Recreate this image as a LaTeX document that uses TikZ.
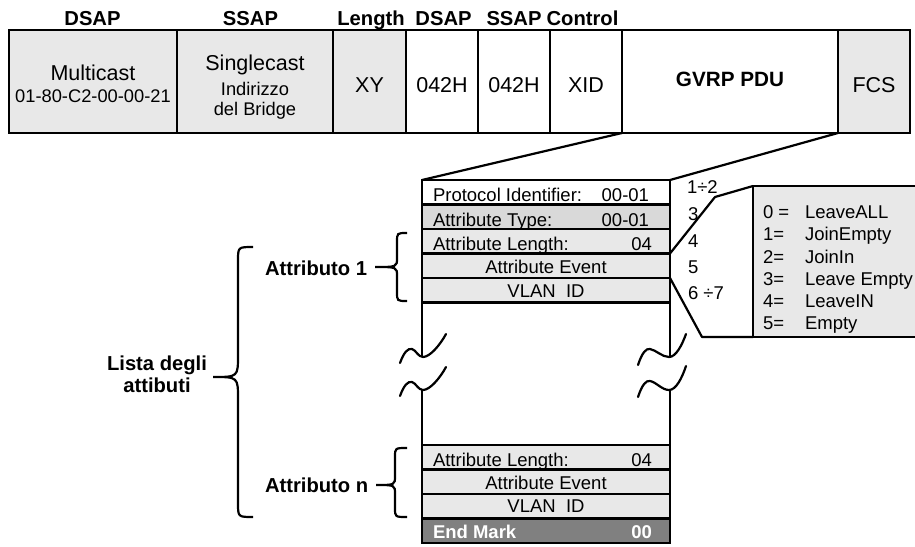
\documentclass[tikz,border=0pt]{standalone}
\usepackage{fontspec}
\setmainfont{Liberation Sans}
\definecolor{lg}{HTML}{E8E8E8}
\definecolor{dg}{HTML}{D9D9D9}
\definecolor{em}{HTML}{808080}
\newcommand\mybrace[8]{\draw[br] (#1,#4) .. controls (#2,#4) .. (#2,#4+#7) -- (#2,#5-#8) .. controls (#2,#5) .. (#3,#5) .. controls (#2,#5) .. (#2,#5+#8) -- (#2,#6-#7) .. controls (#2,#6) .. (#1,#6);}
\begin{document}
\begin{tikzpicture}[x=1pt,y=-1pt,
  cell/.style={draw, line width=2.4pt, minimum height=103pt, inner sep=0pt, outer sep=0pt, anchor=north west},
  rowbox/.style={draw, line width=2.2pt, minimum width=248pt, minimum height=24.5pt, inner sep=0pt, outer sep=0pt, anchor=north west, fill=lg},
  txt/.style={inner sep=0pt, outer sep=0pt, anchor=base},
  hdr/.style={txt, font=\fontsize{20.2}{24}\selectfont\bfseries},
  big/.style={txt, font=\fontsize{21.5}{25}\selectfont},
  mid/.style={txt, font=\fontsize{18.3}{22}\selectfont},
  rt/.style={txt, font=\fontsize{18.5}{22}\selectfont},
  lab/.style={txt, anchor=base west, font=\fontsize{20.2}{24}\selectfont\bfseries},
  ln/.style={line width=2.2pt},
  br/.style={line width=2.2pt},
  wv/.style={line width=2.2pt, line cap=round}]
\useasboundingbox (0,0) rectangle (915,546);
% header labels
\node[hdr] (h1) at (92.5,25) {DSAP};
\node[hdr] (h2) at (250.5,25) {SSAP};
\node[hdr] (h3) at (371,25) {Length};
\node[hdr] (h4) at (443.5,25) {DSAP};
\node[hdr] (h5) at (514,25) {SSAP};
\node[hdr] (h6) at (582.5,25) {Control};
% frame cells
\node[cell, fill=lg, minimum width=168pt] (c1) at (9,30) {};
\node[cell, fill=lg, minimum width=156pt] (c2) at (177,30) {};
\node[cell, fill=lg, minimum width=73pt] (c3) at (333,30) {};
\node[cell, fill=white, minimum width=72pt] (c4) at (406,30) {};
\node[cell, fill=white, minimum width=72pt] (c5) at (478,30) {};
\node[cell, fill=white, minimum width=72pt] (c6) at (550,30) {};
\node[cell, fill=white, minimum width=216pt] (c7) at (622,30) {};
\node[cell, fill=lg, minimum width=72pt] (c8) at (838,30) {};
\node[big] (t1a) at (93,80) {Multicast};
\node[mid] (t1b) at (93,102) {01-80-C2-00-00-21};
\node[big] (t2a) at (255,70) {Singlecast};
\node[mid] (t2b) at (255,95) {Indirizzo};
\node[mid] (t2c) at (255,115) {del Bridge};
\node[big] (t3) at (369.5,92) {XY};
\node[big] (t4) at (442,92) {042H};
\node[big] (t5) at (514,92) {042H};
\node[big] (t6) at (586,92) {XID};
\node[big, font=\fontsize{20.7}{24}\selectfont\bfseries] (t7) at (730,86) {GVRP PDU};
\node[big] (t8) at (874,92) {FCS};
% stack rows (top)
\node[rowbox, fill=white] (r1) at (422,180) {};
\node[rowbox, fill=dg] (r2) at (422,204.5) {};
\node[rowbox] (r3) at (422,229) {};
\node[rowbox] (r4) at (422,253.5) {};
\node[rowbox] (r5) at (422,278) {};
\node[rt, anchor=base west] (r1l) at (433,201.5) {Protocol Identifier:};
\node[rt, anchor=base east] (r1r) at (649,201.5) {00-01};
\node[rt, anchor=base west] (r2l) at (433,226) {Attribute Type:};
\node[rt, anchor=base east] (r2r) at (649,226) {00-01};
\node[rt, anchor=base west] (r3l) at (433,250.5) {Attribute Length:};
\node[rt, anchor=base east] (r3r) at (652,250.5) {04};
\node[rt] (r4t) at (546,273.5) {Attribute Event};
\node[rt] (r5t) at (546,297) {VLAN\ \ ID};
% stack rows (bottom)
\node[rowbox] (s1) at (422,445) {};
\node[rowbox] (s2) at (422,469.5) {};
\node[rowbox] (s3) at (422,494) {};
\node[rowbox, fill=em] (s4) at (422,518.5) {};
\node[rt, anchor=base west] (s1l) at (433,466) {Attribute Length:};
\node[rt, anchor=base east] (s1r) at (652,466) {04};
\node[rt] (s2t) at (546,489.5) {Attribute Event};
\node[rt] (s3t) at (546,512.5) {VLAN\ \ ID};
\node[rt, anchor=base west, text=white, font=\fontsize{18.5}{22}\selectfont\bfseries] (s4l) at (433,538) {End Mark};
\node[rt, anchor=base east, text=white, font=\fontsize{18.5}{22}\selectfont\bfseries] (s4r) at (652,538) {00};
% side lines with breaks
\coordinate (lb1) at (422,357);
\coordinate (lb2) at (422,390);
\coordinate (rb1) at (670,357);
\coordinate (rb2) at (670,390);
\draw[ln] (r5.south west) -- (lb1);
\draw[ln] (lb2) -- (s1.north west);
\draw[ln] (r5.south east) -- (rb1);
\draw[ln] (rb2) -- (s1.north east);
\draw[wv] (400,363) .. controls (404,352) and (408,348) .. (412,349) .. controls (416,350) and (418,357) .. (423,357) .. controls (430,357) and (440,345) .. (446,334);
\draw[wv] (400,396) .. controls (404,385) and (408,381) .. (412,382) .. controls (416,383) and (418,390) .. (423,390) .. controls (430,390) and (440,378) .. (446,367);
\draw[wv] (638,365) .. controls (642,353) and (646,348) .. (650,349) .. controls (656,350) and (662,357) .. (669,357) .. controls (676,357) and (682,345) .. (686,334);
\draw[wv] (638,397) .. controls (642,385) and (646,380) .. (650,381) .. controls (656,382) and (662,390) .. (669,390) .. controls (676,390) and (682,378) .. (686,366);
% funnel
\draw[ln] (c7.south west) -- (r1.north west);
\draw[ln] (c7.south east) -- (r1.north east);
% legend callout
\node[draw, line width=2.2pt, fill=lg, anchor=north west, minimum width=180pt, minimum height=151pt, inner sep=0pt, outer sep=0pt] (leg) at (753,186) {};
\coordinate (k1) at (715,197);
\coordinate (k2) at (702,337);
\draw[ln, line join=round] (r3.south east) -- (k1) -- (leg.north west);
\draw[ln, line join=round] (r5.north east) -- (k2) -- (leg.south west);
\node[rt, anchor=base west] (n1) at (687,193) {1÷2};
\node[rt, anchor=base west] (n2) at (688,220) {3};
\node[rt, anchor=base west] (n3) at (688,247) {4};
\node[rt, anchor=base west] (n4) at (688,273) {5};
\node[rt, anchor=base west] (n5) at (688,299) {6 ÷7};
\node[rt, anchor=base west] (g0k) at (763,218.5) {0 =};
\node[rt, anchor=base west] (g0v) at (805,218.5) {LeaveALL};
\node[rt, anchor=base west] (g1k) at (763,240.5) {1=};
\node[rt, anchor=base west] (g1v) at (805,240.5) {JoinEmpty};
\node[rt, anchor=base west] (g2k) at (763,263) {2=};
\node[rt, anchor=base west] (g2v) at (805,263) {JoinIn};
\node[rt, anchor=base west] (g3k) at (763,285) {3=};
\node[rt, anchor=base west] (g3v) at (805,285) {Leave Empty};
\node[rt, anchor=base west] (g4k) at (763,307.5) {4=};
\node[rt, anchor=base west] (g4v) at (805,307.5) {LeaveIN};
\node[rt, anchor=base west] (g5k) at (763,329.5) {5=};
\node[rt, anchor=base west] (g5v) at (805,329.5) {Empty};
% braces and labels
\mybrace{407}{397}{375}{233}{267}{301}{9}{9}
\node[lab] (a1) at (265,275) {Attributo 1};
\mybrace{407}{395}{376}{448}{485}{517}{9}{9}
\node[lab] (an) at (265,492) {Attributo n};
\mybrace{253}{238}{213}{247}{377}{517}{14}{22}
\node[hdr] (la1) at (157,370) {Lista degli};
\node[hdr] (la2) at (157,392) {attibuti};
\end{tikzpicture}
\end{document}
